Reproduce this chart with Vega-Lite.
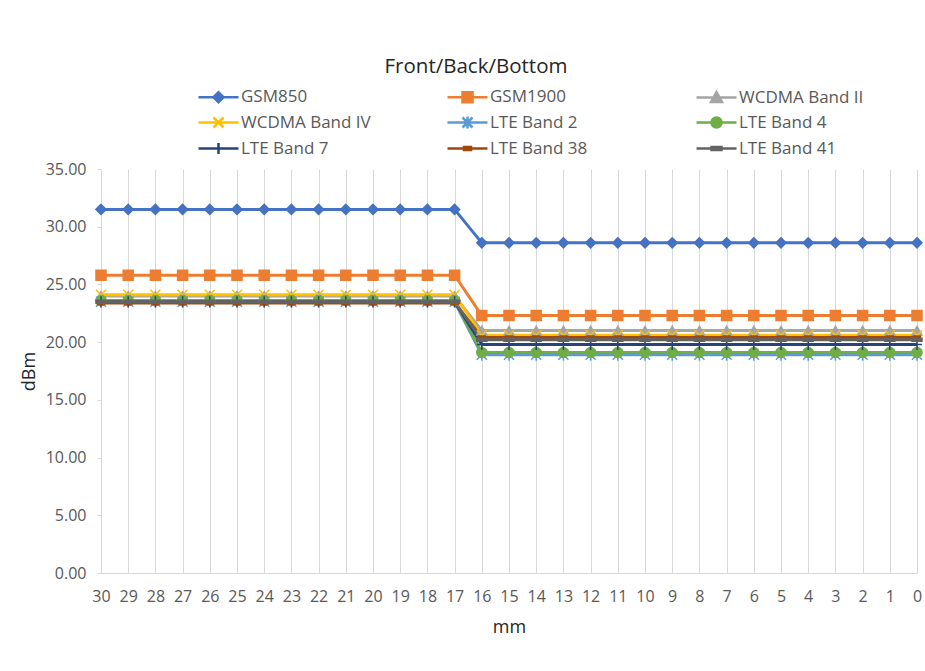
{
  "$schema": "https://vega.github.io/schema/vega-lite/v6.json",
  "autosize": "none",
  "width": 816,
  "height": 404,
  "padding": {"left": 101, "top": 169, "right": 8, "bottom": 98},
  "background": "white",
  "config": {"font": "Open Sans", "view": {"stroke": null}},
  "title": {"text": "Front/Back/Bottom", "frame": "group", "anchor": "middle", "dx": -33, "offset": 11, "fontSize": 20.5, "fontWeight": "normal", "color": "#262626", "font": "Open Sans"},
  "data": {"values": [
    {"mm":30,"series":"GSM850","dBm":31.5},{"mm":29,"series":"GSM850","dBm":31.5},{"mm":28,"series":"GSM850","dBm":31.5},{"mm":27,"series":"GSM850","dBm":31.5},{"mm":26,"series":"GSM850","dBm":31.5},{"mm":25,"series":"GSM850","dBm":31.5},{"mm":24,"series":"GSM850","dBm":31.5},{"mm":23,"series":"GSM850","dBm":31.5},{"mm":22,"series":"GSM850","dBm":31.5},{"mm":21,"series":"GSM850","dBm":31.5},{"mm":20,"series":"GSM850","dBm":31.5},{"mm":19,"series":"GSM850","dBm":31.5},{"mm":18,"series":"GSM850","dBm":31.5},{"mm":17,"series":"GSM850","dBm":31.5},
    {"mm":16,"series":"GSM850","dBm":28.6},{"mm":15,"series":"GSM850","dBm":28.6},{"mm":14,"series":"GSM850","dBm":28.6},{"mm":13,"series":"GSM850","dBm":28.6},{"mm":12,"series":"GSM850","dBm":28.6},{"mm":11,"series":"GSM850","dBm":28.6},{"mm":10,"series":"GSM850","dBm":28.6},{"mm":9,"series":"GSM850","dBm":28.6},{"mm":8,"series":"GSM850","dBm":28.6},{"mm":7,"series":"GSM850","dBm":28.6},{"mm":6,"series":"GSM850","dBm":28.6},{"mm":5,"series":"GSM850","dBm":28.6},{"mm":4,"series":"GSM850","dBm":28.6},{"mm":3,"series":"GSM850","dBm":28.6},{"mm":2,"series":"GSM850","dBm":28.6},{"mm":1,"series":"GSM850","dBm":28.6},{"mm":0,"series":"GSM850","dBm":28.6},

    {"mm":30,"series":"GSM1900","dBm":25.8},{"mm":29,"series":"GSM1900","dBm":25.8},{"mm":28,"series":"GSM1900","dBm":25.8},{"mm":27,"series":"GSM1900","dBm":25.8},{"mm":26,"series":"GSM1900","dBm":25.8},{"mm":25,"series":"GSM1900","dBm":25.8},{"mm":24,"series":"GSM1900","dBm":25.8},{"mm":23,"series":"GSM1900","dBm":25.8},{"mm":22,"series":"GSM1900","dBm":25.8},{"mm":21,"series":"GSM1900","dBm":25.8},{"mm":20,"series":"GSM1900","dBm":25.8},{"mm":19,"series":"GSM1900","dBm":25.8},{"mm":18,"series":"GSM1900","dBm":25.8},{"mm":17,"series":"GSM1900","dBm":25.8},
    {"mm":16,"series":"GSM1900","dBm":22.3},{"mm":15,"series":"GSM1900","dBm":22.3},{"mm":14,"series":"GSM1900","dBm":22.3},{"mm":13,"series":"GSM1900","dBm":22.3},{"mm":12,"series":"GSM1900","dBm":22.3},{"mm":11,"series":"GSM1900","dBm":22.3},{"mm":10,"series":"GSM1900","dBm":22.3},{"mm":9,"series":"GSM1900","dBm":22.3},{"mm":8,"series":"GSM1900","dBm":22.3},{"mm":7,"series":"GSM1900","dBm":22.3},{"mm":6,"series":"GSM1900","dBm":22.3},{"mm":5,"series":"GSM1900","dBm":22.3},{"mm":4,"series":"GSM1900","dBm":22.3},{"mm":3,"series":"GSM1900","dBm":22.3},{"mm":2,"series":"GSM1900","dBm":22.3},{"mm":1,"series":"GSM1900","dBm":22.3},{"mm":0,"series":"GSM1900","dBm":22.3},

    {"mm":30,"series":"WCDMA Band II","dBm":24.0},{"mm":29,"series":"WCDMA Band II","dBm":24.0},{"mm":28,"series":"WCDMA Band II","dBm":24.0},{"mm":27,"series":"WCDMA Band II","dBm":24.0},{"mm":26,"series":"WCDMA Band II","dBm":24.0},{"mm":25,"series":"WCDMA Band II","dBm":24.0},{"mm":24,"series":"WCDMA Band II","dBm":24.0},{"mm":23,"series":"WCDMA Band II","dBm":24.0},{"mm":22,"series":"WCDMA Band II","dBm":24.0},{"mm":21,"series":"WCDMA Band II","dBm":24.0},{"mm":20,"series":"WCDMA Band II","dBm":24.0},{"mm":19,"series":"WCDMA Band II","dBm":24.0},{"mm":18,"series":"WCDMA Band II","dBm":24.0},{"mm":17,"series":"WCDMA Band II","dBm":24.0},
    {"mm":16,"series":"WCDMA Band II","dBm":21.0},{"mm":15,"series":"WCDMA Band II","dBm":21.0},{"mm":14,"series":"WCDMA Band II","dBm":21.0},{"mm":13,"series":"WCDMA Band II","dBm":21.0},{"mm":12,"series":"WCDMA Band II","dBm":21.0},{"mm":11,"series":"WCDMA Band II","dBm":21.0},{"mm":10,"series":"WCDMA Band II","dBm":21.0},{"mm":9,"series":"WCDMA Band II","dBm":21.0},{"mm":8,"series":"WCDMA Band II","dBm":21.0},{"mm":7,"series":"WCDMA Band II","dBm":21.0},{"mm":6,"series":"WCDMA Band II","dBm":21.0},{"mm":5,"series":"WCDMA Band II","dBm":21.0},{"mm":4,"series":"WCDMA Band II","dBm":21.0},{"mm":3,"series":"WCDMA Band II","dBm":21.0},{"mm":2,"series":"WCDMA Band II","dBm":21.0},{"mm":1,"series":"WCDMA Band II","dBm":21.0},{"mm":0,"series":"WCDMA Band II","dBm":21.0},

    {"mm":30,"series":"WCDMA Band IV","dBm":24.1},{"mm":29,"series":"WCDMA Band IV","dBm":24.1},{"mm":28,"series":"WCDMA Band IV","dBm":24.1},{"mm":27,"series":"WCDMA Band IV","dBm":24.1},{"mm":26,"series":"WCDMA Band IV","dBm":24.1},{"mm":25,"series":"WCDMA Band IV","dBm":24.1},{"mm":24,"series":"WCDMA Band IV","dBm":24.1},{"mm":23,"series":"WCDMA Band IV","dBm":24.1},{"mm":22,"series":"WCDMA Band IV","dBm":24.1},{"mm":21,"series":"WCDMA Band IV","dBm":24.1},{"mm":20,"series":"WCDMA Band IV","dBm":24.1},{"mm":19,"series":"WCDMA Band IV","dBm":24.1},{"mm":18,"series":"WCDMA Band IV","dBm":24.1},{"mm":17,"series":"WCDMA Band IV","dBm":24.1},
    {"mm":16,"series":"WCDMA Band IV","dBm":20.6},{"mm":15,"series":"WCDMA Band IV","dBm":20.6},{"mm":14,"series":"WCDMA Band IV","dBm":20.6},{"mm":13,"series":"WCDMA Band IV","dBm":20.6},{"mm":12,"series":"WCDMA Band IV","dBm":20.6},{"mm":11,"series":"WCDMA Band IV","dBm":20.6},{"mm":10,"series":"WCDMA Band IV","dBm":20.6},{"mm":9,"series":"WCDMA Band IV","dBm":20.6},{"mm":8,"series":"WCDMA Band IV","dBm":20.6},{"mm":7,"series":"WCDMA Band IV","dBm":20.6},{"mm":6,"series":"WCDMA Band IV","dBm":20.6},{"mm":5,"series":"WCDMA Band IV","dBm":20.6},{"mm":4,"series":"WCDMA Band IV","dBm":20.6},{"mm":3,"series":"WCDMA Band IV","dBm":20.6},{"mm":2,"series":"WCDMA Band IV","dBm":20.6},{"mm":1,"series":"WCDMA Band IV","dBm":20.6},{"mm":0,"series":"WCDMA Band IV","dBm":20.6},

    {"mm":30,"series":"LTE Band 2","dBm":23.5},{"mm":29,"series":"LTE Band 2","dBm":23.5},{"mm":28,"series":"LTE Band 2","dBm":23.5},{"mm":27,"series":"LTE Band 2","dBm":23.5},{"mm":26,"series":"LTE Band 2","dBm":23.5},{"mm":25,"series":"LTE Band 2","dBm":23.5},{"mm":24,"series":"LTE Band 2","dBm":23.5},{"mm":23,"series":"LTE Band 2","dBm":23.5},{"mm":22,"series":"LTE Band 2","dBm":23.5},{"mm":21,"series":"LTE Band 2","dBm":23.5},{"mm":20,"series":"LTE Band 2","dBm":23.5},{"mm":19,"series":"LTE Band 2","dBm":23.5},{"mm":18,"series":"LTE Band 2","dBm":23.5},{"mm":17,"series":"LTE Band 2","dBm":23.5},
    {"mm":16,"series":"LTE Band 2","dBm":18.9},{"mm":15,"series":"LTE Band 2","dBm":18.9},{"mm":14,"series":"LTE Band 2","dBm":18.9},{"mm":13,"series":"LTE Band 2","dBm":18.9},{"mm":12,"series":"LTE Band 2","dBm":18.9},{"mm":11,"series":"LTE Band 2","dBm":18.9},{"mm":10,"series":"LTE Band 2","dBm":18.9},{"mm":9,"series":"LTE Band 2","dBm":18.9},{"mm":8,"series":"LTE Band 2","dBm":18.9},{"mm":7,"series":"LTE Band 2","dBm":18.9},{"mm":6,"series":"LTE Band 2","dBm":18.9},{"mm":5,"series":"LTE Band 2","dBm":18.9},{"mm":4,"series":"LTE Band 2","dBm":18.9},{"mm":3,"series":"LTE Band 2","dBm":18.9},{"mm":2,"series":"LTE Band 2","dBm":18.9},{"mm":1,"series":"LTE Band 2","dBm":18.9},{"mm":0,"series":"LTE Band 2","dBm":18.9},

    {"mm":30,"series":"LTE Band 4","dBm":23.6},{"mm":29,"series":"LTE Band 4","dBm":23.6},{"mm":28,"series":"LTE Band 4","dBm":23.6},{"mm":27,"series":"LTE Band 4","dBm":23.6},{"mm":26,"series":"LTE Band 4","dBm":23.6},{"mm":25,"series":"LTE Band 4","dBm":23.6},{"mm":24,"series":"LTE Band 4","dBm":23.6},{"mm":23,"series":"LTE Band 4","dBm":23.6},{"mm":22,"series":"LTE Band 4","dBm":23.6},{"mm":21,"series":"LTE Band 4","dBm":23.6},{"mm":20,"series":"LTE Band 4","dBm":23.6},{"mm":19,"series":"LTE Band 4","dBm":23.6},{"mm":18,"series":"LTE Band 4","dBm":23.6},{"mm":17,"series":"LTE Band 4","dBm":23.6},
    {"mm":16,"series":"LTE Band 4","dBm":19.1},{"mm":15,"series":"LTE Band 4","dBm":19.1},{"mm":14,"series":"LTE Band 4","dBm":19.1},{"mm":13,"series":"LTE Band 4","dBm":19.1},{"mm":12,"series":"LTE Band 4","dBm":19.1},{"mm":11,"series":"LTE Band 4","dBm":19.1},{"mm":10,"series":"LTE Band 4","dBm":19.1},{"mm":9,"series":"LTE Band 4","dBm":19.1},{"mm":8,"series":"LTE Band 4","dBm":19.1},{"mm":7,"series":"LTE Band 4","dBm":19.1},{"mm":6,"series":"LTE Band 4","dBm":19.1},{"mm":5,"series":"LTE Band 4","dBm":19.1},{"mm":4,"series":"LTE Band 4","dBm":19.1},{"mm":3,"series":"LTE Band 4","dBm":19.1},{"mm":2,"series":"LTE Band 4","dBm":19.1},{"mm":1,"series":"LTE Band 4","dBm":19.1},{"mm":0,"series":"LTE Band 4","dBm":19.1},

    {"mm":30,"series":"LTE Band 7","dBm":23.5},{"mm":29,"series":"LTE Band 7","dBm":23.5},{"mm":28,"series":"LTE Band 7","dBm":23.5},{"mm":27,"series":"LTE Band 7","dBm":23.5},{"mm":26,"series":"LTE Band 7","dBm":23.5},{"mm":25,"series":"LTE Band 7","dBm":23.5},{"mm":24,"series":"LTE Band 7","dBm":23.5},{"mm":23,"series":"LTE Band 7","dBm":23.5},{"mm":22,"series":"LTE Band 7","dBm":23.5},{"mm":21,"series":"LTE Band 7","dBm":23.5},{"mm":20,"series":"LTE Band 7","dBm":23.5},{"mm":19,"series":"LTE Band 7","dBm":23.5},{"mm":18,"series":"LTE Band 7","dBm":23.5},{"mm":17,"series":"LTE Band 7","dBm":23.5},
    {"mm":16,"series":"LTE Band 7","dBm":19.8},{"mm":15,"series":"LTE Band 7","dBm":19.8},{"mm":14,"series":"LTE Band 7","dBm":19.8},{"mm":13,"series":"LTE Band 7","dBm":19.8},{"mm":12,"series":"LTE Band 7","dBm":19.8},{"mm":11,"series":"LTE Band 7","dBm":19.8},{"mm":10,"series":"LTE Band 7","dBm":19.8},{"mm":9,"series":"LTE Band 7","dBm":19.8},{"mm":8,"series":"LTE Band 7","dBm":19.8},{"mm":7,"series":"LTE Band 7","dBm":19.8},{"mm":6,"series":"LTE Band 7","dBm":19.8},{"mm":5,"series":"LTE Band 7","dBm":19.8},{"mm":4,"series":"LTE Band 7","dBm":19.8},{"mm":3,"series":"LTE Band 7","dBm":19.8},{"mm":2,"series":"LTE Band 7","dBm":19.8},{"mm":1,"series":"LTE Band 7","dBm":19.8},{"mm":0,"series":"LTE Band 7","dBm":19.8},

    {"mm":30,"series":"LTE Band 38","dBm":23.4},{"mm":29,"series":"LTE Band 38","dBm":23.4},{"mm":28,"series":"LTE Band 38","dBm":23.4},{"mm":27,"series":"LTE Band 38","dBm":23.4},{"mm":26,"series":"LTE Band 38","dBm":23.4},{"mm":25,"series":"LTE Band 38","dBm":23.4},{"mm":24,"series":"LTE Band 38","dBm":23.4},{"mm":23,"series":"LTE Band 38","dBm":23.4},{"mm":22,"series":"LTE Band 38","dBm":23.4},{"mm":21,"series":"LTE Band 38","dBm":23.4},{"mm":20,"series":"LTE Band 38","dBm":23.4},{"mm":19,"series":"LTE Band 38","dBm":23.4},{"mm":18,"series":"LTE Band 38","dBm":23.4},{"mm":17,"series":"LTE Band 38","dBm":23.4},
    {"mm":16,"series":"LTE Band 38","dBm":20.4},{"mm":15,"series":"LTE Band 38","dBm":20.4},{"mm":14,"series":"LTE Band 38","dBm":20.4},{"mm":13,"series":"LTE Band 38","dBm":20.4},{"mm":12,"series":"LTE Band 38","dBm":20.4},{"mm":11,"series":"LTE Band 38","dBm":20.4},{"mm":10,"series":"LTE Band 38","dBm":20.4},{"mm":9,"series":"LTE Band 38","dBm":20.4},{"mm":8,"series":"LTE Band 38","dBm":20.4},{"mm":7,"series":"LTE Band 38","dBm":20.4},{"mm":6,"series":"LTE Band 38","dBm":20.4},{"mm":5,"series":"LTE Band 38","dBm":20.4},{"mm":4,"series":"LTE Band 38","dBm":20.4},{"mm":3,"series":"LTE Band 38","dBm":20.4},{"mm":2,"series":"LTE Band 38","dBm":20.4},{"mm":1,"series":"LTE Band 38","dBm":20.4},{"mm":0,"series":"LTE Band 38","dBm":20.4},

    {"mm":30,"series":"LTE Band 41","dBm":23.5},{"mm":29,"series":"LTE Band 41","dBm":23.5},{"mm":28,"series":"LTE Band 41","dBm":23.5},{"mm":27,"series":"LTE Band 41","dBm":23.5},{"mm":26,"series":"LTE Band 41","dBm":23.5},{"mm":25,"series":"LTE Band 41","dBm":23.5},{"mm":24,"series":"LTE Band 41","dBm":23.5},{"mm":23,"series":"LTE Band 41","dBm":23.5},{"mm":22,"series":"LTE Band 41","dBm":23.5},{"mm":21,"series":"LTE Band 41","dBm":23.5},{"mm":20,"series":"LTE Band 41","dBm":23.5},{"mm":19,"series":"LTE Band 41","dBm":23.5},{"mm":18,"series":"LTE Band 41","dBm":23.5},{"mm":17,"series":"LTE Band 41","dBm":23.5},
    {"mm":16,"series":"LTE Band 41","dBm":20.2},{"mm":15,"series":"LTE Band 41","dBm":20.2},{"mm":14,"series":"LTE Band 41","dBm":20.2},{"mm":13,"series":"LTE Band 41","dBm":20.2},{"mm":12,"series":"LTE Band 41","dBm":20.2},{"mm":11,"series":"LTE Band 41","dBm":20.2},{"mm":10,"series":"LTE Band 41","dBm":20.2},{"mm":9,"series":"LTE Band 41","dBm":20.2},{"mm":8,"series":"LTE Band 41","dBm":20.2},{"mm":7,"series":"LTE Band 41","dBm":20.2},{"mm":6,"series":"LTE Band 41","dBm":20.2},{"mm":5,"series":"LTE Band 41","dBm":20.2},{"mm":4,"series":"LTE Band 41","dBm":20.2},{"mm":3,"series":"LTE Band 41","dBm":20.2},{"mm":2,"series":"LTE Band 41","dBm":20.2},{"mm":1,"series":"LTE Band 41","dBm":20.2},{"mm":0,"series":"LTE Band 41","dBm":20.2}
  ]},
  "encoding": {
    "x": {
      "field": "mm", "type": "ordinal", "sort": "descending",
      "scale": {"type": "point", "padding": 0},
      "axis": {"title": "mm", "labelAngle": 0, "grid": true, "gridColor": "#d9d9d9", "gridWidth": 1, "ticks": false, "domainColor": "#d9d9d9", "labelPadding": 15, "labelFontSize": 16, "labelColor": "#595959", "labelFont": "Open Sans", "titleFontSize": 18, "titleFontWeight": "normal", "titleColor": "#262626", "titleFont": "Open Sans", "titlePadding": 14}
    },
    "y": {
      "field": "dBm", "type": "quantitative",
      "scale": {"domain": [0, 35], "nice": false, "zero": true},
      "axis": {"title": "dBm", "values": [0, 5, 10, 15, 20, 25, 30, 35], "format": ".2f", "grid": false, "domain": false, "tickColor": "#d9d9d9", "tickSize": 4, "labelPadding": 11, "labelFontSize": 16, "labelColor": "#595959", "labelFont": "Open Sans", "titleFontSize": 18, "titleFontWeight": "normal", "titleColor": "#262626", "titleFont": "Open Sans", "titlePadding": 7}
    },
    "color": {
      "field": "series", "type": "nominal",
      "sort": ["GSM850", "GSM1900", "WCDMA Band II", "WCDMA Band IV", "LTE Band 2", "LTE Band 4", "LTE Band 7", "LTE Band 38", "LTE Band 41"],
      "scale": {
        "domain": ["GSM850", "GSM1900", "WCDMA Band II", "WCDMA Band IV", "LTE Band 2", "LTE Band 4", "LTE Band 7", "LTE Band 38", "LTE Band 41"],
        "range": ["#4472C4", "#ED7D31", "#A5A5A5", "#FFC000", "#5B9BD5", "#70AD47", "#264478", "#9E480E", "#636363"]
      },
      "legend": {
        "title": null, "orient": "none", "legendX": 94, "legendY": -81, "direction": "horizontal", "columns": 3, "gridAlign": "all",
        "columnPadding": 71, "rowPadding": 3, "symbolSize": 100, "symbolOffset": 0, "labelOffset": 29,
        "labelFontSize": 17, "labelColor": "#595959", "labelFont": "Open Sans", "symbolStrokeWidth": 2.5,
        "encode": {
          "symbols": {
            "update": {
              "shape": {"signal": "datum.value==='GSM850'?'M-1,0H7M2,0L3,-1L4,0L3,1Z':datum.value==='GSM1900'?'M-1,0H7M2,-1H4V1H2Z':datum.value==='WCDMA Band II'?'M-1,0H7M3,-1.1L4.1,0.9H1.9Z':datum.value==='WCDMA Band IV'?'M-1,0H7M2,-1L4,1M2,1L4,-1':datum.value==='LTE Band 2'?'M-1,0H7M2,-1L4,1M2,1L4,-1M3,-1.2V1.2':datum.value==='LTE Band 4'?'M-1,0H7M4,0A1,1,0,1,1,2,0A1,1,0,1,1,4,0Z':datum.value==='LTE Band 7'?'M-1,0H7M3,-1.1V1.1':datum.value==='LTE Band 38'?'M-1,0H7M2.3,-0.3H3.7V0.3H2.3Z':'M-1,0H7M2,-0.3H4V0.3H2Z'"},
              "strokeWidth": {"value": 2.5},
              "opacity": {"value": 1}
            }
          }
        }
      }
    }
  },
  "layer": [
    {"mark": {"type": "line", "strokeWidth": 3}},
    {
      "mark": {"type": "point", "filled": true, "size": 100, "opacity": 1, "strokeWidth": 1.5},
      "encoding": {
        "shape": {
          "field": "series", "type": "nominal",
          "scale": {
            "domain": ["LTE Band 41", "LTE Band 38", "LTE Band 7", "LTE Band 4", "LTE Band 2", "WCDMA Band IV", "WCDMA Band II", "GSM1900", "GSM850"],
            "range": ["M-1,-0.3H1V0.3H-1Z", "M-0.7,-0.3H0.7V0.3H-0.7Z", "M-1,0H1M0,-1.1V1.1", "circle", "M-1,-1L1,1M-1,1L1,-1M0,-1.2V1.2", "M-1,-1L1,1M-1,1L1,-1", "triangle-up", "square", "diamond"]
          },
          "legend": null
        },
        "stroke": {
          "field": "series", "type": "nominal",
          "scale": {
            "domain": ["GSM1900", "WCDMA Band II", "WCDMA Band IV", "LTE Band 2", "LTE Band 4", "LTE Band 7", "LTE Band 38", "LTE Band 41", "GSM850"],
            "range": ["#ED7D31", "#A5A5A5", "#FFC000", "#5B9BD5", "#70AD47", "#264478", "#9E480E", "#636363", "#4472C4"]
          },
          "legend": null
        }
      }
    }
  ]
}
